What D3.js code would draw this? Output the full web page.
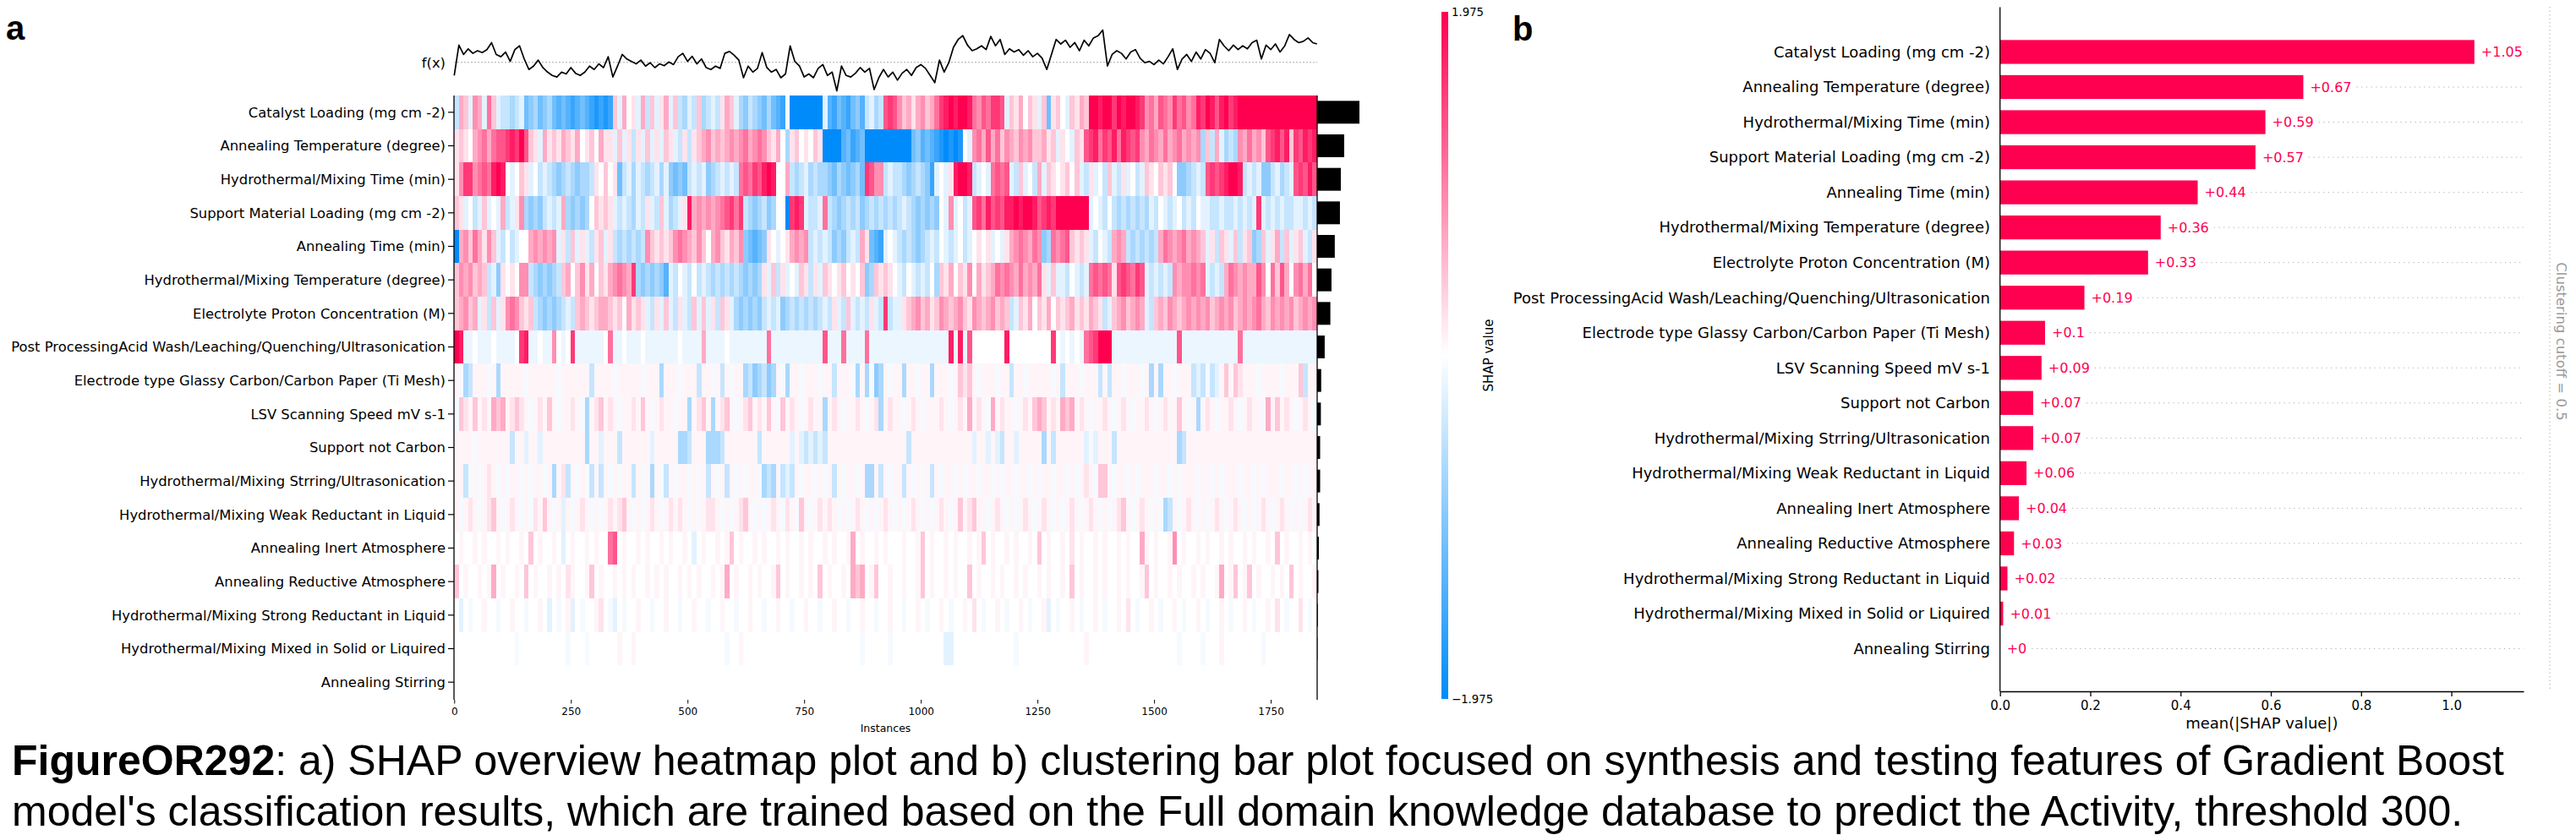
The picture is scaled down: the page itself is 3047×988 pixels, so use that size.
<!DOCTYPE html>
<html><head><meta charset="utf-8">
<script src="https://cdn.jsdelivr.net/npm/d3@7"></script>
<style>body{margin:0;background:#fff} svg{display:block}</style>
</head><body>
<svg id="c" width="3047" height="988"></svg>
<script>
// ---------------- DATA ----------------
const features = [
  "Catalyst Loading (mg cm -2)",
  "Annealing Temperature (degree)",
  "Hydrothermal/Mixing Time (min)",
  "Support Material Loading (mg cm -2)",
  "Annealing Time (min)",
  "Hydrothermal/Mixing Temperature (degree)",
  "Electrolyte Proton Concentration (M)",
  "Post ProcessingAcid Wash/Leaching/Quenching/Ultrasonication",
  "Electrode type Glassy Carbon/Carbon Paper (Ti Mesh)",
  "LSV Scanning Speed mV s-1",
  "Support not Carbon",
  "Hydrothermal/Mixing Strring/Ultrasonication",
  "Hydrothermal/Mixing Weak Reductant in Liquid",
  "Annealing Inert Atmosphere",
  "Annealing Reductive Atmosphere",
  "Hydrothermal/Mixing Strong Reductant in Liquid",
  "Hydrothermal/Mixing Mixed in Solid or Liquired",
  "Annealing Stirring"
];
const meanAbsShap = [1.051,0.672,0.588,0.566,0.438,0.356,0.328,0.187,0.0998,0.092,0.0735,0.0735,0.0587,0.0418,0.031,0.0165,0.007,0];

// model output f(x), one reading every 10 instances
const fxValues = [
-0.7,0.92,0.42,0.72,0.48,0.62,0.52,0.68,1.05,0.42,
0.3,0.55,0.05,0.68,0.88,0.18,-0.38,-0.2,0.12,-0.28,
-0.52,-0.7,-0.78,-0.52,-0.62,-0.28,-0.58,-0.7,-0.52,-0.2,
-0.38,-0.08,-0.28,0.3,-0.78,-0.2,0.42,0.18,0.05,-0.08,
0.12,-0.2,-0.02,-0.28,-0.08,-0.18,0.02,-0.12,0.3,0.48,
0.05,0.32,-0.08,0.18,-0.28,-0.38,-0.2,-0.32,0.48,0.58,
0.38,0.12,-0.82,-0.2,-0.52,-0.32,0.52,-0.28,-0.52,-0.38,
-0.82,-0.62,0.88,0.05,-0.2,-0.78,-0.62,-0.82,-0.32,-0.12,
-0.7,-0.52,-1.52,-0.2,-0.7,-0.78,-0.58,-0.28,-0.52,-0.32,
-1.45,-0.82,-0.38,-0.78,
-0.52,-0.95,-0.58,-0.38,-0.7,-0.28,-0.12,-0.32,-0.7,-1.08,
0.12,-0.52,-0.02,0.8,1.22,1.42,0.92,0.62,0.72,0.88,
0.68,1.38,0.88,1.22,0.42,0.72,0.55,0.68,0.38,0.62,
0.3,0.48,0.22,-0.38,0.42,1.22,0.98,1.18,0.8,1.05,
0.62,1.18,0.88,1.3,1.42,1.72,-0.2,0.42,0.62,0.48,
0.18,0.55,0.68,0.22,-0.02,0.05,-0.12,0.12,-0.08,0.3,
0.72,-0.38,0.18,0.42,0.05,0.55,0.18,0.68,0.48,-0.02,
1.22,0.88,0.62,0.92,0.68,0.88,0.72,1.05,1.18,0.18,
0.92,0.68,0.98,0.55,0.88,1.48,1.22,1.05,1.12,1.3,
1.05,0.98
];

// SHAP value per block of 10 instances, coded: 0 none, + / - faint, m faint blue,
// 1..9 positive (x 1.975/9), a..i negative (x 1.975/9)
const shapRows = [
"b32a43a52ab bcba edcedc efefgfef ghghg 2a301a3b2a13a2 bcab2cbab1 32a cdbcdecefg 0 iiiiiii a fgefgedf bacb 676 423134235 7898998 5465776 a213021a2 e 120a2132 998997989987 45365475645 8798689789 9999999999999999",
"1210 3453 56678796 21a31213 213012031 1a2a1b1a2a1a21ab1 b1 234232343 453454 2130c 1201021 iiii fegfe iiiiiii iiiedfef ghihih 0a 45363524 32434223 12a10a21 678576858767 4354353453434c 2b3a cbc 435342 67868276878",
"14 774 565 898 0a0 21 a0ba bcdcbcdccb 10201 e bacabcbaca dede baba dc babab 56576 898 003 bcbacbc cdecdedce 76 44 bab bcdcbcdg a0a1 8998 ba0a 5656 ab2a0b3a 2101202 ab1a0b2ab1a0ba 2102120 ddc bab 6767 8998 baba dd bacba 67686",
"21 a0ba2a0a3ba1 4 cdcd baba 3 cdcdc 02121 ab abcab1ab2acba1 8 343 434 56757 bcdcbdc 00 i 787 abba 5 bcdcbcbdcbcbcbc bab cdcdcd 0a 4 a0ba 67586768 898998 6 787 9999999 a0ab0 bcbcbcbc ab0aba0bab0a abbabbababa 7 abababbaabab",
"i 34253142 ab0ba 00 343434 a1b2a1ab12a1 bcbcbcb 4 21212 454 324203421324 defed 10a01 3434 babab dcd bab 31 efg a0a bcbcdcb ab0aba0b a0101a0a1 3454354 dc 5456 2121 ab0ab 343 bcbcbcb 354345343 2a1b21a2b12 dc 2a13b2a12ab1",
"2434232ba d1010 44 bcdcdcb 2302413021 345437 cdcdcdf ab0ab0ba bcbcbcb cdcdc 1a2b1a0a21b1a 210120102 dc 21210 ab0abab0c 21302140312 3545 4353435 1a2a ab0aba 56565 1 676576 ababab 4344 545 abab 354343 36405263045350",
"23423 a1b2a1 454 212 bcdcdc bab 23212332 1203121 ab1a2ab1ab2a 2a1b21a cdcdcd baba dc bcbcbcb ab1ab2abab1ab 7 ba a1 2342312432342143234232 ba 213021302 123121321 ba 2342343 ab 23243234 343423434234345324343423434",
"98 mm0mmm0mmmm0 78 mm0mm 4 0m0 7 mmmmmm0 5 mm0mmm0mmmmmmm0mmmm 3 mmmm0mmmmmmmm 5 mmmmmmmmmmm 6 mmm 5 mmmm 5 mmmmmm mmmmmmmmmmm 8 m 8 m 6 0000000 8 000000000 7 0m0m0m 567 999 mmmmmmmmmmmmmm 6 mmmmmmmmmmmm 5 mmmmmmmmmmmmmmmm",
"+- cb +++-+ c +++++-++++++-++++++ b ++++-+++++-+++ c +++-+++ b ++-+ b +-++ cbdcbdc +- c ++-+++-++ b +++- c + c - dc +-+ + c ++-++ c +++-+ 212 +-+++-++ b ++-+++++-+ b +++-+++ b + b ++-+++-+ c + c ++-+++ bab-ba +2+ 21 +++-++++-+++2 b ++",
"- 21 + 2 +1+ 323 +1 21 +-+1+ 2 +-++1+- c +1 2 +1+-++1+ 2 +-+1++-++ c +1 2 + c +1 2 +-+1 2 +1+ 2 +- 2 +1+-+1++ c +1+-++1+-+1 c +1+ +-+1+-++ +1 +-+1+ 3 +1+- 3 +1++-+1+ 232 +1+ 323 +1+-++1+-+1+-++1+-+1++ 2 +-+ c +1+-++1+-+1++- 3 + 2 +1+-+1+-",
"++++ - +++++++ b ++ a ++ a +++++++++ c ++ a +++ b ++++++ a +++++ cc b +++ c cc b +++++++ b ++++++ a + ababa b +++++++++++++++ ++ b +++++++++++++ a ++ a + ab ++ a +++++ c + b ++++++ a-a +++ b +++++++++++++ c b ++++++++++++++++++++++++++++",
"++ b -+-+ 1 +-+-++-+-++-+ c + 1 b +-+- b + b +-+-++ b +-+ c +- b +-++-+-+ b +-+ b +-+-++- cbc + bab +-++-+-+ b +-++-+ cc + b +-+ + b +-+-+ b +-++-+-++-++-+-++-++-+-++-++-+-+ 1 +- 22 +-++-+-+++-++-+-+++-++-+-+++-++-+-+++-++-+-++",
"+-+1+-+1 2 +-+1+-+-1+ 2 +-+ a +-+1+-+-+1+ 12 +-+-+1+-+ 1+1+ -+-+1 1 +-+-+1 2 +-+-+1+- 1 +- 2 +-+1+ 1 +-+-+1+-+-+1+- +-+1+-+-+1+-+ 2 +1 2+ +-+1+-+-+1+-+1+-+-+1+-+1+-+-+1 2 +-+1+-+- cb +-+1+-+-+1+-+1+-+-+1+-+1+-+-+1 +",
"0+00+0+00+0+00+0 2 0+00+0 a 0+00+0+00 56 0+00+0+00+0+00+0 a 0+00+0+ 2 0+00+0+00+0+00+0+00+0+00+ 3 0+00+0+00 0+00+ 2 0+00+0+00+0+ 2 0+00+0+00+0 2 0+00+0 1 0+00+0+00+0+00 3 +0+00+ 4 0+00+0+00+0+00+0+00+0 2 0+00+0+0",
"2 0+00+0+ 3 0+00+0 2 0+00+0+0 1 +00+ 2 0+00+0+0+00+0+0+00+0+0+00+0+ 3 0+00+0+00+ 2 0+00+0+0 2 0+00+0 323 0+200+0 0+00+2 0+00+0+00 2 0+00+0+00+0+00+0+00+0 2 0+00+0+00+0+00+ 2 0+00+0+00+0+00+ 3 0+ 2 0+ 2 0+00+0+0 2 0+00+",
"0 a 0-00+00-00+00-00+0 a 0-0+ a 0-00+ 1 0- a 0-00+00-00+00-00+00-00+00-00+00-00+00-00+00-00+00-00+00-00+0 0-00+0-00+0-00+0 1 0-00+0-00+0-00+ a 0-00+0-00+0-00+0 1 0-00+0-00+0-00+0-00+0-00+0-00+0 1 0-00 1 0-0",
"0000000000000 - 0000000000 - 000 - 000000 + 00 + 0000000000000000000 - 00 + 0000000000000000000000000 - 00000 - 0 0000000000 aa 0000000000000-00000000000000 + 0000000000000000000 - 0000 - 000 + 00000000 - 00000000000",
""
];

const heatTicks = [0, 250, 500, 750, 1000, 1250, 1500, 1750];
const barTicks = [0, 0.2, 0.4, 0.6, 0.8, 1.0];
const colorLimit = 1.975;
const nInstances = 1850;
const blockSize = 10;

const captionBold = "FigureOR292";
const captionLine1 = ": a) SHAP overview heatmap plot and b) clustering bar plot focused on synthesis and testing features of Gradient Boost";
const captionLine2 = "model's classification results, which are trained based on the Full domain knowledge database to predict the Activity, threshold 300.";

// ---------------- DRAW ----------------
const svg = d3.select("#c");
svg.append("rect").attr("width",3047).attr("height",988).attr("fill","#fff");
const FONT = "DejaVu Sans";
const RED = "#ff0051", BLUE = "#008bfb";
const nBlocks = Math.ceil(nInstances / blockSize);

const levelMap = {"0":0, "+":0.08, "-":-0.08, "m":-0.15};
function decode(ch){
  if (ch in levelMap) return levelMap[ch];
  if (ch >= "1" && ch <= "9") return (+ch) / 9 * colorLimit;
  const k = ch.charCodeAt(0) - 96;
  if (k >= 1 && k <= 9) return -k / 9 * colorLimit;
  return 0;
}
const rowValues = shapRows.map(s => {
  const clean = s.replace(/\s+/g, "");
  const arr = [];
  for (let b = 0; b < nBlocks; b++) arr.push(b < clean.length ? decode(clean[b]) : 0);
  return arr;
});

const color = d3.scaleLinear().domain([-colorLimit, 0, colorLimit]).range([BLUE, "#ffffff", RED]).clamp(true);

// panel labels
svg.append("text").attr("x",7).attr("y",47).text("a")
  .attr("font-family","Liberation Sans").attr("font-weight","bold").attr("font-size",40);
svg.append("text").attr("x",1789).attr("y",48).text("b")
  .attr("font-family","Liberation Sans").attr("font-weight","bold").attr("font-size",40);

// ---- panel a: heatmap ----
const xH = d3.scaleLinear().domain([-0.5, nInstances - 0.5]).range([537, 1558]);
const yH = d3.scaleBand().domain(features).range([113, 827]);
const bwH = yH.bandwidth();

const cells = [];
features.forEach((f, r) => rowValues[r].forEach((v, b) => cells.push({f, b, v})));
svg.append("g").attr("shape-rendering","crispEdges")
  .selectAll("rect").data(cells).join("rect")
  .attr("x", d => xH(d.b * blockSize - 0.5))
  .attr("width", d => xH(Math.min(nInstances, (d.b + 1) * blockSize) - 0.5) - xH(d.b * blockSize - 0.5) + 0.4)
  .attr("y", d => yH(d.f))
  .attr("height", bwH + 0.4)
  .attr("fill", d => color(d.v));

// black importance bars
const xImp = d3.scaleLinear().domain([0, d3.max(meanAbsShap)]).range([0, 50]);
svg.append("g").selectAll("rect").data(features).join("rect")
  .attr("x", xH(nInstances - 0.5))
  .attr("y", f => yH(f) + bwH * 0.16)
  .attr("height", bwH * 0.68)
  .attr("width", (f, i) => xImp(meanAbsShap[i]))
  .attr("fill", "#000");

// spines
const spineBottom = 828;
svg.append("line").attr("x1", xH(-0.5)).attr("x2", xH(-0.5)).attr("y1", 113).attr("y2", spineBottom).attr("stroke","#000").attr("stroke-width",1.3);
svg.append("line").attr("x1", xH(nInstances-0.5)).attr("x2", xH(nInstances-0.5)).attr("y1", 113).attr("y2", spineBottom).attr("stroke","#000").attr("stroke-width",1.3);

// y ticks & labels
const yLab = svg.append("g");
features.forEach(f => {
  const cy = yH(f) + bwH / 2;
  yLab.append("line").attr("x1", 530).attr("x2", xH(-0.5)).attr("y1", cy).attr("y2", cy).attr("stroke","#000").attr("stroke-width",1.2);
  yLab.append("text").attr("x", 527).attr("y", cy).attr("dy","0.35em").attr("text-anchor","end")
    .attr("font-family", FONT).attr("font-size", 16.4).attr("fill","#000").text(f);
});

// x axis
const axH = svg.append("g").attr("transform", `translate(0,${spineBottom})`)
  .call(d3.axisBottom(xH).tickValues(heatTicks).tickSize(4.5).tickPadding(5).tickFormat(d3.format("d")));
axH.select(".domain").remove();
axH.selectAll("text").attr("font-family", FONT).attr("font-size", 12).attr("fill","#000");
axH.selectAll("line").attr("stroke","#000");
svg.append("text").attr("x", (xH(-0.5) + xH(nInstances - 0.5)) / 2).attr("y", 866).attr("text-anchor","middle")
  .attr("font-family", FONT).attr("font-size", 12.5).text("Instances");

// f(x) line
const yF = d3.scaleLinear().domain([-1.7, 1.9]).range([111.5, 31.6]);
svg.append("line").attr("x1", xH(-0.5)).attr("x2", xH(nInstances - 0.5)).attr("y1", yF(0)).attr("y2", yF(0))
  .attr("stroke", "#aaa").attr("stroke-width", 1).attr("stroke-dasharray", "2,2");
const fxPts = fxValues.map((v, i) => [Math.min(i * blockSize, nInstances - 1), v]);
svg.append("path").datum(fxPts)
  .attr("d", d3.line().x(d => xH(d[0])).y(d => yF(d[1])))
  .attr("fill","none").attr("stroke","#000").attr("stroke-width",1.7).attr("stroke-linejoin","round");
svg.append("text").attr("x", 527).attr("y", yF(0)).attr("dy","0.35em").attr("text-anchor","end")
  .attr("font-family", FONT).attr("font-size", 16.4).text("f(x)");

// colorbar
const yC = d3.scaleLinear().domain([-colorLimit, colorLimit]).range([827, 14]);
const defs = svg.append("defs");
const grad = defs.append("linearGradient").attr("id","cbar").attr("x1",0).attr("x2",0).attr("y1",0).attr("y2",1);
d3.range(0, 1.0001, 0.05).forEach(t => {
  grad.append("stop").attr("offset", t).attr("stop-color", color(colorLimit - t * 2 * colorLimit));
});
svg.append("rect").attr("x",1705).attr("width",8).attr("y",yC(colorLimit)).attr("height",yC(-colorLimit)-yC(colorLimit)).attr("fill","url(#cbar)");
[colorLimit, -colorLimit].forEach(v => {
  svg.append("text").attr("x",1717).attr("y", yC(v)).attr("dy","0.35em")
    .attr("font-family", FONT).attr("font-size", 13.3).text(d3.format(".3f")(v).replace("-", "\u2212"));
});
svg.append("text").attr("transform", `translate(1761,${(yC(0))}) rotate(-90)`).attr("text-anchor","middle").attr("dy","0.35em")
  .attr("font-family", FONT).attr("font-size", 15).text("SHAP value");

// ---- panel b: bar plot ----
const xB = d3.scaleLinear().domain([0, 1.16]).range([2365.7, 2985]);
const yB = d3.scaleBand().domain(features).range([40.7, 788.3]);
const bwB = yB.bandwidth();
const gB = svg.append("g");

features.forEach((f, i) => {
  const cy = yB(f) + bwB / 2;
  gB.append("text").attr("x", 2354).attr("y", cy).attr("dy","0.35em").attr("text-anchor","end")
    .attr("font-family", FONT).attr("font-size", 18).text(f);
});
gB.selectAll("rect.bar").data(features).join("rect").attr("class","bar")
  .attr("x", xB(0)).attr("y", f => yB(f) + bwB * 0.16).attr("height", bwB * 0.68)
  .attr("width", (f, i) => xB(meanAbsShap[i]) - xB(0)).attr("fill", RED);
features.forEach((f, i) => {
  const cy = yB(f) + bwB / 2;
  const t = gB.append("text").attr("x", xB(meanAbsShap[i]) + 8).attr("y", cy).attr("dy","0.35em")
    .attr("font-family", FONT).attr("font-size", 16).attr("fill", RED)
    .text("+" + String(+meanAbsShap[i].toFixed(2)));
  const w = t.node().getComputedTextLength();
  gB.insert("line", ":first-child").attr("x1", xB(meanAbsShap[i]) + 8 + w + 6).attr("x2", xB.range()[1])
    .attr("y1", cy).attr("y2", cy).attr("stroke", "#999").attr("stroke-width", 0.8).attr("stroke-dasharray", "1.2,4.5");
});
// spines / axis
gB.append("line").attr("x1", xB(0)).attr("x2", xB(0)).attr("y1", 8.4).attr("y2", 818).attr("stroke","#000").attr("stroke-width",1.3);
const axB = svg.append("g").attr("transform","translate(0,818)")
  .call(d3.axisBottom(xB).tickValues(barTicks).tickSize(6).tickSizeOuter(0).tickPadding(5).tickFormat(d3.format(".1f")));
axB.selectAll("text").attr("font-family", FONT).attr("font-size", 15).attr("fill","#000");
axB.selectAll("line,path").attr("stroke","#000").attr("stroke-width",1.3);
svg.append("text").attr("x", (xB.range()[0] + xB.range()[1]) / 2).attr("y", 862).attr("text-anchor","middle")
  .attr("font-family", FONT).attr("font-size", 18).text("mean(|SHAP value|)");

// clustering cutoff
svg.append("line").attr("x1", 3016).attr("x2", 3016).attr("y1", 8).attr("y2", 818)
  .attr("stroke", "#ccc").attr("stroke-width", 1.5).attr("stroke-dasharray", "1.5,3");
svg.append("text").attr("transform", "translate(3030,404) rotate(90)").attr("text-anchor","middle").attr("dy","0.35em")
  .attr("font-family", FONT).attr("font-size", 16.5).attr("fill", "#999").text("Clustering cutoff = 0.5");

// caption
const cap1 = svg.append("text").attr("x", 14).attr("y", 917).attr("font-family","Liberation Sans").attr("font-size", 50).attr("fill","#000");
cap1.append("tspan").attr("font-weight","bold").text(captionBold);
cap1.append("tspan").text(captionLine1);
svg.append("text").attr("x", 14).attr("y", 977).attr("font-family","Liberation Sans").attr("font-size", 50).attr("fill","#000").text(captionLine2);
</script>
</body></html>
